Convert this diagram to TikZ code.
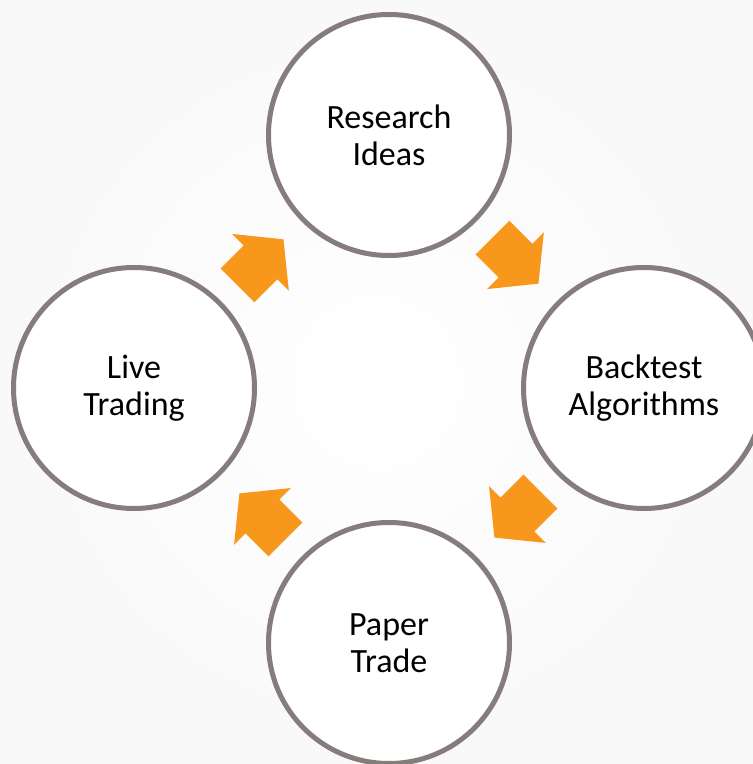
\documentclass[tikz,border=0pt]{standalone}
\usepackage{fontspec}
\setmainfont{Carlito}
\usetikzlibrary{shapes.arrows, calc, positioning}

\definecolor{ringgray}{RGB}{134,124,124}
\definecolor{cycleorange}{RGB}{247,152,29}

\begin{document}
\begin{tikzpicture}[
    x=1pt, y=1pt,
    stage/.style={circle, draw=ringgray, line width=5pt, fill=white,
        minimum size=241pt, inner sep=0pt, align=center,
        font=\fontsize{34}{37}\selectfont},
    flow/.style={single arrow, fill=cycleorange, draw=none, anchor=tail,
        minimum height=65pt, inner xsep=0pt, inner ysep=23.7pt,
        single arrow head extend=16.3pt, single arrow tip angle=102}
]
\useasboundingbox (0,0) rectangle (753,764);
\shade[inner color=white, outer color=black!2.5] (0,0) rectangle (753,764);

\node (Research) [stage] at (389,629) {Research\\Ideas};
\node (Backtest) [stage] at (644,376) {Backtest\\Algorithms};
\node (Paper) [stage] at (389,121) {Paper\\Trade};
\node (Live) [stage] at (134,376) {Live\\Trading};

\node (Arrow01) [flow, rotate=-45] at ($($(Research)!0.5!(Backtest)$)!34pt!(Research)$) {};
\node (Arrow02) [flow, rotate=-135] at ($($(Backtest)!0.5!(Paper)$)!34pt!(Backtest)$) {};
\node (Arrow03) [flow, rotate=135] at ($($(Paper)!0.5!(Live)$)!34pt!(Paper)$) {};
\node (Arrow04) [flow, rotate=45] at ($($(Live)!0.5!(Research)$)!34pt!(Live)$) {};

\end{tikzpicture}
\end{document}
